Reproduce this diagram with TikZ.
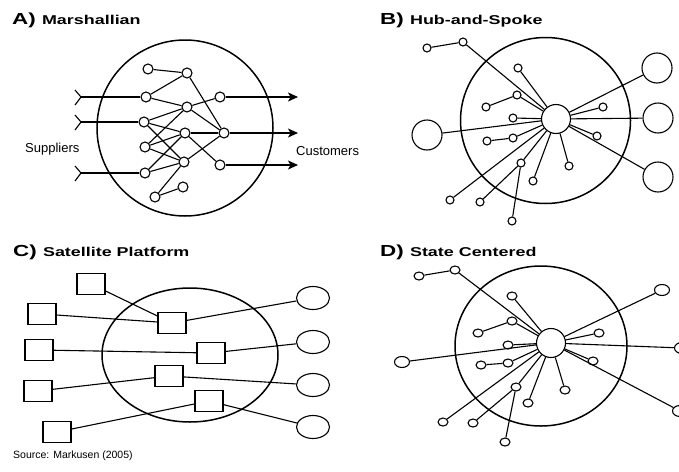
\documentclass[tikz,border=0pt]{standalone}
\usepackage{fontspec}
\setmainfont{Liberation Sans}
\usepackage{graphicx}
\usetikzlibrary{arrows.meta,shapes.geometric}
\tikzset{
  dot/.style={circle,draw,line width=1.1pt,inner sep=0pt,minimum size=10pt},
  sdot/.style={circle,draw,line width=1.1pt,inner sep=0pt,minimum size=8pt},
  edot/.style={ellipse,draw,line width=1.1pt,inner sep=0pt,minimum width=10pt,minimum height=8pt},
  hub/.style={circle,draw,line width=1.1pt,inner sep=0pt,minimum size=29pt},
  bigdot/.style={circle,draw,line width=1.1pt,inner sep=0pt,minimum size=30pt},
  oval/.style={ellipse,draw,line width=1.1pt,inner sep=0pt,minimum width=15pt,minimum height=11pt},
  firm/.style={rectangle,draw,line width=1.1pt,inner sep=0pt,minimum width=28pt,minimum height=21pt},
  cust/.style={ellipse,draw,line width=1.1pt,inner sep=0pt,minimum width=33pt,minimum height=23pt},
  region/.style={line width=1.5pt},
  link/.style={line width=1.1pt},
  lbl/.style={anchor=base west,inner sep=0pt,font=\fontsize{13}{13}\selectfont}
}
\newcommand{\paneltitle}[2]{\scalebox{1.4}[1]{\fontsize{16}{16}\selectfont\bfseries #1 \fontsize{12.8}{12.8}\selectfont #2}}
\begin{document}
\begin{tikzpicture}[x=1pt,y=-1pt]
\useasboundingbox[fill=white](0,0)rectangle(679,471);
%A) Marshallian
\node[anchor=base west,inner sep=0pt](ta)at(12,24){\paneltitle{A)}{Marshallian}};
\draw[region](185,128)circle[radius=88pt];
\foreach \n/\x/\y in {1/148/69,2/187/73,3/146/97,4/187/107,5/220/97,6/144/122,7/185/133,
  8/224/133,9/145/147,10/184/162,11/220/165,12/145/173,13/183/187,14/155/197}
  \node[dot](a\n)at(\x,\y){};
\foreach \a/\b in {1/2,2/3,2/8,3/4,4/5,4/6,4/9,4/8,6/7,6/10,9/7,9/10,12/7,12/10,7/8,7/11,10/8,14/10,14/13}
  \draw[link](a\a)--(a\b);
%suppliers in
\foreach \n/\y in {3/97,6/122,12/173}{
  \coordinate(in\n)at(81,\y);
  \draw[link](in\n)--(a\n);
  \draw[link](in\n)--++(-6,-7) (in\n)--++(-6,8);
}
%customers out
\foreach \n/\y in {5/97,8/133,11/165}{
  \coordinate(out\n)at(298,\y);
  \draw[link,-{Stealth[length=10pt,width=9pt,inset=2.5pt]}](a\n)--(out\n);
}
\node[lbl](sup)at(25,152){Suppliers};
\node[lbl](cus)at(296,155){Customers};
%B) Hub-and-Spoke
\node[anchor=base west,inner sep=0pt](tb)at(380,24){\paneltitle{B)}{Hub-and-Spoke}};
\draw[region](545.5,120.5)ellipse[x radius=85pt,y radius=83pt];
\node[hub](hb)at(556,119){};
\foreach \n/\x/\y in {1/427/48,2/463/42,3/518/68,4/517/95,5/486/107,6/513/118,7/513/138,8/487/141,
  9/521/163,10/533/181,11/569/166,12/603/107,13/597/136,14/450/200,15/480/202,16/512/221}
  \node[sdot](b\n)at(\x,\y){};
\foreach \n/\x/\y in {L/427/135,R1/657/68,R2/658/118,R3/658/177}
  \node[bigdot](b\n)at(\x,\y){};
\foreach \n in {2,3,4,6,7,9,10,11,12,13,14,L,R1,R2,R3}
  \draw[link](hb)--(b\n);
\foreach \a/\b in {1/2,5/4,8/7,15/9,16/9}
  \draw[link](b\a)--(b\b);
%C) Satellite Platform
\node[anchor=base west,inner sep=0pt](tc)at(13,256){\paneltitle{C)}{Satellite Platform}};
\draw[region](190,355)ellipse[x radius=88pt,y radius=67pt];
\foreach \n/\x/\y in {1/91/284,2/42/314,3/39/350,4/38/391,5/57/432}
  \node[firm](c\n)at(\x,\y){};
\foreach \n/\x/\y in {1/172/323,2/211/353,3/169/376,4/209/401}
  \node[firm](p\n)at(\x,\y){};
\foreach \n/\y in {1/298,2/342,3/385,4/427}
  \node[cust](e\n)at(313,\y){};
\foreach \a/\b in {1/1,2/1,3/2,4/3,5/4}
  \draw[link](c\a)--(p\b);
\foreach \n in {1,2,3,4}
  \draw[link](p\n)--(e\n);
\node[anchor=base west,inner sep=0pt,font=\fontsize{10.5}{10.5}\selectfont](src)at(13,458){Source: Markusen (2005)};
%D) State Centered
\node[anchor=base west,inner sep=0pt](td)at(380,256.5){\paneltitle{D)}{State Centered}};
\draw[region](541,346)ellipse[x radius=86pt,y radius=80pt];
\node[hub](hd)at(551,343){};
\foreach \n/\x/\y in {1/419/276,2/455/270,3/512/296,4/512/321,5/478/333,6/508/345,7/508/363,8/481/365,
  9/516/387,10/528/403,11/565/390,12/599/333,13/593/361,14/443/422,15/473/423,16/505/442}
  \node[edot](d\n)at(\x,\y){};
\foreach \n/\x/\y in {L/402/362,R1/662/290,R2/682/348,R3/680/411}
  \node[oval](d\n)at(\x,\y){};
\foreach \n in {2,3,4,6,7,9,10,11,12,13,14,L,R1,R2,R3}
  \draw[link](hd)--(d\n);
\foreach \a/\b in {1/2,5/4,8/7,15/9,16/9}
  \draw[link](d\a)--(d\b);
\end{tikzpicture}
\end{document}
